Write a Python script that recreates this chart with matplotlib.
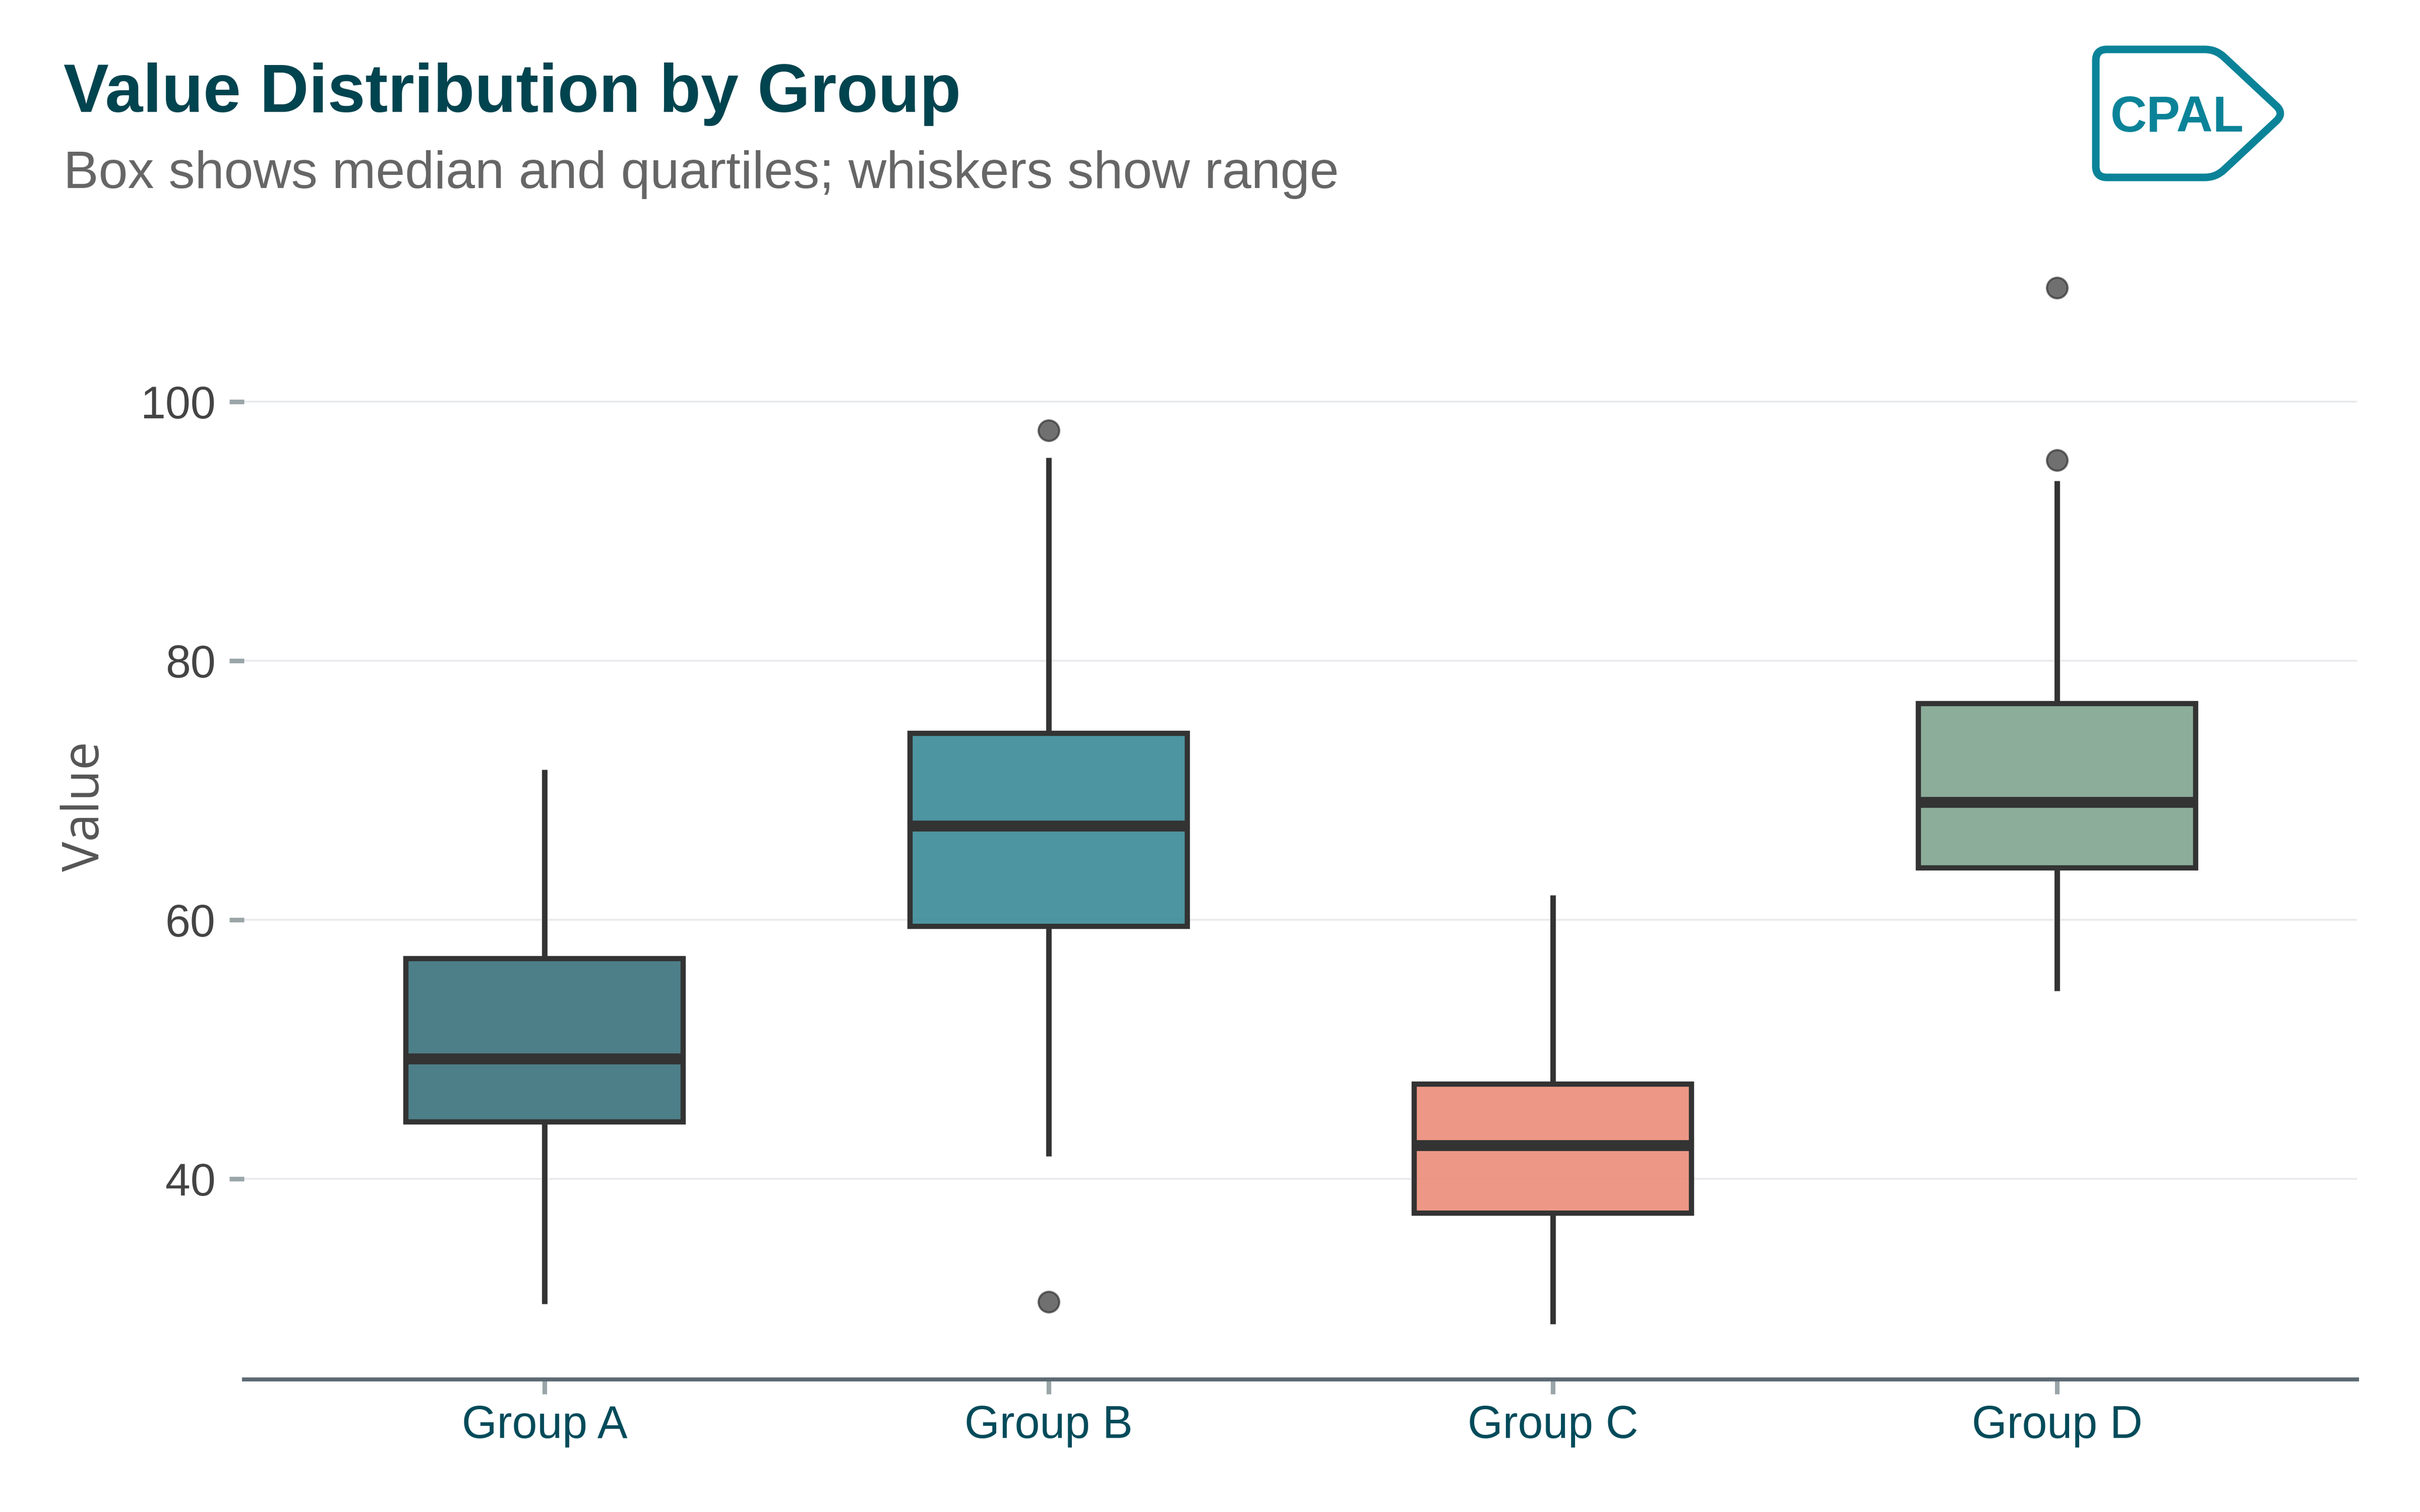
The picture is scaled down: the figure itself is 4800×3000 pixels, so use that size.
import matplotlib
matplotlib.use("Agg")
import matplotlib.pyplot as plt
from matplotlib.path import Path
from matplotlib.patches import PathPatch
from matplotlib.colors import to_rgba
import math

# ---- data ----
groups = ["Group A", "Group B", "Group C", "Group D"]
q1 = [44.4, 59.5, 37.35, 64.0]
medians = [49.25, 67.25, 42.55, 69.05]
q3 = [57.0, 74.4, 47.3, 76.7]
whisker_low = [30.35, 41.75, 28.8, 54.5]
whisker_high = [71.6, 95.7, 61.9, 93.9]
outliers = [[], [97.8, 30.5], [], [108.8, 95.5]]
box_colors = ["#3A717C", "#398A97", "#EC8D79", "#7FA48F"]
y_ticks = [40, 60, 80, 100]

title = "Value Distribution by Group"
subtitle = "Box shows median and quartiles; whiskers show range"
y_label = "Value"

W, H = 4800, 3000
fig = plt.figure(figsize=(16, 10), dpi=300)
fig.patch.set_facecolor("white")

left, right, bottom, top = 484, 4675, 2737, 463
ax = fig.add_axes([left / W, 1 - bottom / H, (right - left) / W, (bottom - top) / H])

stats = []
for i, g in enumerate(groups):
    stats.append(dict(label=g, med=medians[i], q1=q1[i], q3=q3[i],
                      whislo=whisker_low[i], whishi=whisker_high[i],
                      fliers=outliers[i]))

dark = "#333333"
bp = ax.bxp(stats, positions=range(len(groups)), widths=0.55, patch_artist=True,
            showcaps=False, showfliers=True,
            boxprops=dict(linewidth=2.5, edgecolor=dark),
            medianprops=dict(color=dark, linewidth=5.2, solid_capstyle="butt"),
            whiskerprops=dict(color=dark, linewidth=2.6, solid_capstyle="butt"),
            flierprops=dict(marker="o", markerfacecolor=dark, markeredgecolor=dark,
                            markersize=9.8, markeredgewidth=1.0, alpha=0.7, linestyle="none"))
for patch, c in zip(bp["boxes"], box_colors):
    patch.set_facecolor(to_rgba(c, 0.9))
    patch.set_edgecolor(dark)
    patch.set_zorder(2)

ax.set_xlim(-0.596, 3.595)
ax.set_ylim(24.5, 113)
ax.set_yticks(y_ticks)
ax.set_xticks(range(len(groups)))
ax.set_xticklabels(groups)

ax.grid(axis="y", color="#E8EAED", linewidth=0.85, zorder=0)
ax.grid(axis="x", visible=False)
ax.set_axisbelow(True)
for s in ["top", "right", "left"]:
    ax.spines[s].set_visible(False)
ax.spines["bottom"].set_color("#5D6A74")
ax.spines["bottom"].set_linewidth(1.9)

ax.tick_params(axis="both", color="#9AA5A8", length=7, width=2.2)
ax.tick_params(axis="y", pad=6.5, labelsize=21.5, labelcolor="#444444")
ax.tick_params(axis="x", pad=5, labelsize=21.5, labelcolor="#004B5A")
for lab in ax.get_xticklabels() + ax.get_yticklabels():
    lab.set_fontfamily(["Liberation Sans", "DejaVu Sans"])

ax.set_ylabel(y_label, fontsize=24, color="#555555", labelpad=14,
              fontfamily=["Open Sans", "DejaVu Sans"])

ov = fig.add_axes([0, 0, 1, 1], facecolor="none")
ov.set_xlim(0, W)
ov.set_ylim(H, 0)
ov.axis("off")

ov.text(126, 222, title, fontsize=32.3, fontweight="bold", color="#00444F",
        va="baseline", ha="left", fontfamily=["Liberation Sans", "DejaVu Sans"])
ov.text(126, 373, subtitle, fontsize=25, color="#666666",
        va="baseline", ha="left", fontfamily=["Liberation Sans", "DejaVu Sans"])

logo_c = "#0A8398"
pts = [(4157, 98), (4395, 98), (4531, 225), (4395, 352), (4157, 352)]
r = 22
verts, codes = [], []
n = len(pts)
for i in range(n):
    p0 = pts[i - 1]
    p1 = pts[i]
    p2 = pts[(i + 1) % n]
    d1 = math.hypot(p1[0] - p0[0], p1[1] - p0[1])
    d2 = math.hypot(p2[0] - p1[0], p2[1] - p1[1])
    a = (p1[0] + (p0[0] - p1[0]) * r / d1, p1[1] + (p0[1] - p1[1]) * r / d1)
    b = (p1[0] + (p2[0] - p1[0]) * r / d2, p1[1] + (p2[1] - p1[1]) * r / d2)
    verts.append(a); codes.append(Path.MOVETO if i == 0 else Path.LINETO)
    verts += [p1, b]; codes += [Path.CURVE3, Path.CURVE3]
verts.append(verts[0]); codes.append(Path.CLOSEPOLY)
ov.add_patch(PathPatch(Path(verts, codes), facecolor="white", edgecolor=logo_c,
                       linewidth=3.6, joinstyle="round"))
ov.text(4318, 224, "CPAL", fontsize=24, fontweight="bold", color=logo_c,
        ha="center", va="center_baseline", fontfamily=["Liberation Sans", "DejaVu Sans"])

fig.savefig("out.png", dpi=300, facecolor="white")
